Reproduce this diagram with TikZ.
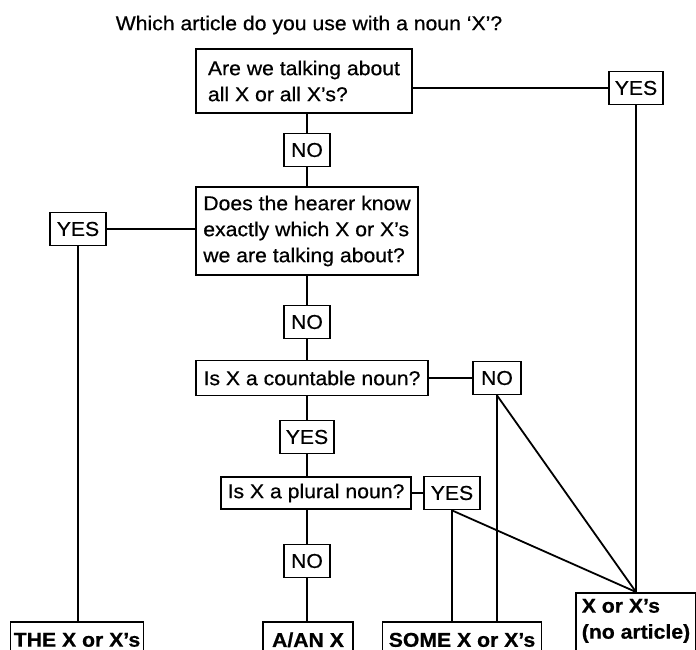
\documentclass[tikz,border=0pt]{standalone}
\usepackage{fontspec}
\setmainfont[FakeStretch=1.06,FakeBold=0.6]{Liberation Sans}
\usepackage{tikz}

\begin{document}
\begin{tikzpicture}[x=1pt,y=-1pt,line width=1.8pt,
    qbox/.style={draw,align=left,inner xsep=0pt,inner ysep=0pt,font=\fontsize{20}{26}\selectfont},
    tag/.style={draw,minimum height=33,inner xsep=0pt,inner ysep=0pt,font=\fontsize{20}{24}\selectfont},
    res/.style={draw,anchor=north,inner xsep=0pt,minimum height=36,font=\fontsize{20}{26}\selectfont\bfseries}]
    \clip (0,0) rectangle (696,650);
    \node[font=\fontsize{20}{24}\selectfont] (title) at (309,25) {Which article do you use with a noun `X'?};
    \node[qbox,minimum width=216,minimum height=64] (qall) at (304,81) {Are we talking about\\all X or all X's?};
    \node[tag,minimum width=54] (yesall) at (636,88) {YES};
    \node[tag,minimum width=46] (noall) at (307,150) {NO};
    \node[qbox,minimum width=222,minimum height=88] (qknow) at (307,231) {Does the hearer know\\exactly which X or X's\\we are talking about?};
    \node[tag,minimum width=56] (yesknow) at (78,229) {YES};
    \node[tag,minimum width=46] (noknow) at (307,322) {NO};
    \node[qbox,minimum width=232,minimum height=35] (qcount) at (312,378) {Is X a countable noun?};
    \node[tag,minimum width=48] (nocount) at (497,378) {NO};
    \node[tag,minimum width=54] (yescount) at (307,437) {YES};
    \node[qbox,minimum width=190,minimum height=32] (qplural) at (316,493) {Is X a plural noun?};
    \node[tag,minimum width=56] (yesplural) at (452,493) {YES};
    \node[tag,minimum width=46] (noplural) at (307,561) {NO};
    \node[res,minimum width=133] (the) at (77,621) {THE X or X's};
    \node[res,minimum width=90] (aan) at (308,621) {A/AN X};
    \node[res,minimum width=159] (some) at (462,621) {SOME X or X's};
    \node[res,minimum width=120,inner ysep=6pt,align=left] (zero) at (636,592) {X or X's\\(no article)\rule[-14pt]{0pt}{14pt}};
    \draw (yesall.west) -- (yesall.west -| qall.east);
    \draw (yesall.south) -- (zero.north);
    \draw (qall.south -| noall) -- (noall) -- (qknow.north -| noall);
    \draw (yesknow.east) -- (yesknow.east -| qknow.west);
    \draw (yesknow.south) -- (yesknow.south |- the.north);
    \draw (qknow.south -| noknow) -- (noknow) -- (qcount.north -| noknow);
    \draw (qcount) -- (nocount);
    \draw (nocount.south) -- (nocount.south |- some.north);
    \draw (nocount.south) -- (zero.north);
    \draw (qcount.south -| yescount) -- (yescount) -- (qplural.north -| yescount);
    \draw (qplural) -- (yesplural);
    \draw (yesplural.south) -- (yesplural.south |- some.north);
    \draw (yesplural.south) -- (zero.north);
    \draw (qplural.south -| noplural) -- (noplural) -- (aan.north -| noplural);
\end{tikzpicture}
\end{document}
